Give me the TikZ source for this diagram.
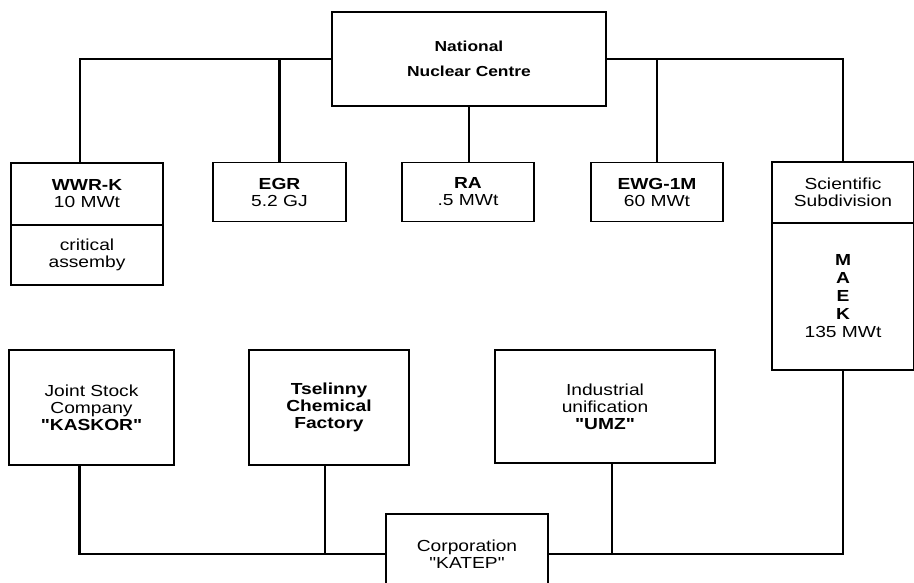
\documentclass[tikz,border=0pt]{standalone}
\usepackage{fontspec}
\setmainfont{Liberation Sans}[FakeStretch=1.2, Ligatures=TeXOff]

\tikzset{
  unit/.style={draw, line width=1.1pt, align=center, inner sep=0pt,
    font=\fontsize{16}{17}\selectfont},
  link/.style={line width=2.4pt},
}

\begin{document}
\begin{tikzpicture}[x=1pt,y=-1pt]
\useasboundingbox (0,0) rectangle (914,583);
\clip (0,0) rectangle (914,583);
\fill [white] (0,0) rectangle (914,583);

% head of the tree
\node [unit, minimum width=274, minimum height=94,
  font=\bfseries\fontsize{14.5}{25}\selectfont] (ncc) at (469,59) {National\\Nuclear Centre};

% reactors and the scientific subdivision
\node [unit, minimum width=152, minimum height=62] (wwrk) at (87,194) {\textbf{WWR-K}\\10 MWt};
\node [unit, minimum width=152, minimum height=60] (crit) at (87,255) {critical\\assemby};
\node [unit, minimum width=133, minimum height=59] (egr) at (279.5,192) {\textbf{EGR}\\5.2 GJ};
\node [unit, minimum width=132, minimum height=59] (ra) at (468,192) {\textbf{RA}\\.5 MWt};
\node [unit, minimum width=132, minimum height=59] (ewg) at (657,192) {\textbf{EWG-1M}\\60 MWt};
\node [unit, minimum width=142, minimum height=61] (sci) at (843,192.5) {Scientific\\Subdivision};
\node [unit, minimum width=142, minimum height=147,
  font=\fontsize{16}{18}\selectfont] (maek) at (843,296.5)
  {\textbf{M}\\\textbf{A}\\\textbf{E}\\\textbf{K}\\135 MWt};

% enterprises
\node [unit, minimum width=165, minimum height=115] (jsc) at (91.5,407.5) {Joint Stock\\Company\\\textbf{"KASKOR"}};
\node [unit, minimum width=160, minimum height=115, font=\bfseries\fontsize{16}{17}\selectfont] (tcf) at (329,407.5) {Tselinny\\Chemical\\Factory};
\node [unit, minimum width=220, minimum height=113] (umz) at (605,406.5) {Industrial\\unification\\\textbf{"UMZ"}};
\node [unit, minimum width=162, minimum height=80] (katep) at (467,554) {Corporation\\"KATEP"};

% upper links
\draw [link] (ncc.west) -| ([xshift=-7]wwrk.north);
\draw [link] (ncc.west) -| (egr.north);
\draw [link] (ncc.south) -- (ncc.south |- ra.north);
\draw [link] (ncc.east) -| (ewg.north);
\draw [link] (ncc.east) -| (sci.north);

% lower links
\draw [link] (katep.west) -| ([xshift=-12]jsc.south);
\draw [link] (katep.west) -| ([xshift=-4]tcf.south);
\draw [link] (katep.east) -| ([xshift=7]umz.south);
\draw [link] (katep.east) -| (maek.south);
\end{tikzpicture}
\end{document}
